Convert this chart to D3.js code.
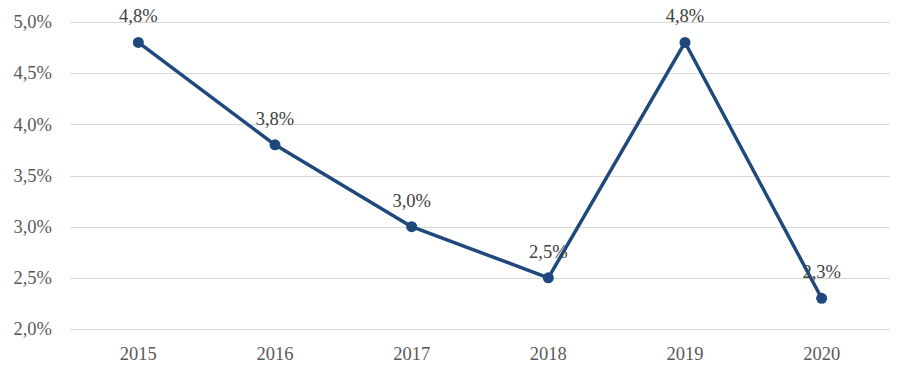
<!DOCTYPE html>
<html><head><meta charset="utf-8">
<script src="https://cdn.jsdelivr.net/npm/d3@7"></script>
<style>body{margin:0;background:#fff}svg{display:block}</style>
</head><body>
<svg id="c" width="912" height="378"></svg>
<script>
const years = ["2015","2016","2017","2018","2019","2020"];
const values = [4.8, 3.8, 3.0, 2.5, 4.8, 2.3];
const yTicks = [2.0, 2.5, 3.0, 3.5, 4.0, 4.5, 5.0];

(function () {
const svg = d3.select("#c");
const mL = 70, mR = 890, mT = 22, mB = 329;
const font = "'Liberation Serif', 'Times New Roman', serif";
const textColor = "#595959";
const fmt = v => v.toFixed(1).replace(".", ",") + "%";

const x = d3.scaleBand().domain(years).range([mL, mR]);
const y = d3.scaleLinear().domain([2.0, 5.0]).range([mB, mT]);

// gridlines
svg.append("g").selectAll("line").data(yTicks).join("line")
  .attr("x1", mL).attr("x2", mR)
  .attr("y1", d => Math.round(y(d)) + 0.5).attr("y2", d => Math.round(y(d)) + 0.5)
  .attr("stroke", "#d9d9d9").attr("stroke-width", 1);

// y labels
svg.append("g").selectAll("text").data(yTicks).join("text")
  .attr("x", 52).attr("y", d => y(d)).attr("dy", "0.34em")
  .attr("text-anchor", "end").attr("font-family", font).attr("font-size", 18.5)
  .attr("fill", textColor).text(fmt);

// x labels
svg.append("g").selectAll("text").data(years).join("text")
  .attr("x", d => x(d) + x.bandwidth() / 2).attr("y", 360)
  .attr("text-anchor", "middle").attr("font-family", font).attr("font-size", 18.5)
  .attr("fill", textColor).text(d => d);

const pts = years.map((yr, i) => ({yr, v: values[i]}));
const cx = d => x(d.yr) + x.bandwidth() / 2;

// line
svg.append("path").datum(pts)
  .attr("d", d3.line().x(cx).y(d => y(d.v)))
  .attr("fill", "none").attr("stroke", "#1f497d").attr("stroke-width", 3.5)
  .attr("stroke-linejoin", "round");

// markers
svg.append("g").selectAll("circle").data(pts).join("circle")
  .attr("cx", cx).attr("cy", d => y(d.v)).attr("r", 5.5)
  .attr("fill", "#1f497d");

// data labels
svg.append("g").selectAll("text").data(pts).join("text")
  .attr("x", cx).attr("y", d => y(d.v) - 20)
  .attr("text-anchor", "middle").attr("font-family", font).attr("font-size", 18.5)
  .attr("fill", "#404040").text(d => fmt(d.v));
})();
</script>
</body></html>
